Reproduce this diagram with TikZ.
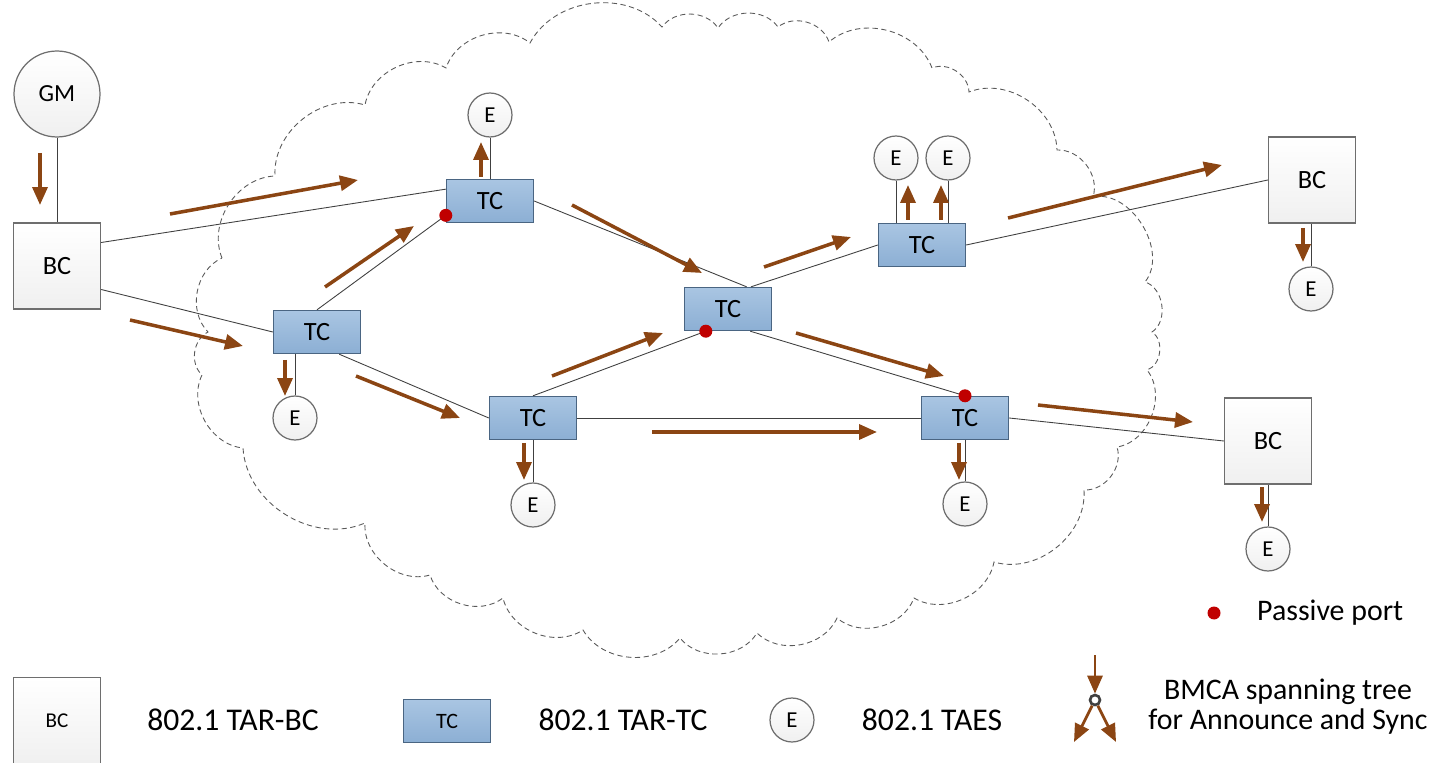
\documentclass[tikz,border=0pt]{standalone}
\usepackage{fontspec}
\setmainfont{Carlito}
\usetikzlibrary{arrows.meta,positioning}

\begin{document}
\begin{tikzpicture}[x=0.02cm,y=0.02cm]
% Define scheme colours
\definecolor{flow}{HTML}{8B4513}
\definecolor{tctop}{HTML}{A9C5E2}
\definecolor{tcbot}{HTML}{8CAFD4}
\definecolor{tcedge}{HTML}{4A6582}
\definecolor{boxedge}{HTML}{6E6E6E}
\definecolor{port}{HTML}{C00000}
\definecolor{wire}{HTML}{404040}

\tikzset{
  tcbox/.style={draw=tcedge,line width=0.8pt,top color=tctop,bottom color=tcbot,minimum width=1.74cm,minimum height=0.86cm,inner sep=0pt,font=\fontsize{15}{15}\selectfont},
  bcbox/.style={draw=boxedge,line width=0.8pt,top color=white,bottom color=gray!12,minimum width=1.74cm,minimum height=1.72cm,inner sep=0pt,font=\fontsize{15}{15}\selectfont},
  endst/.style={circle,draw=boxedge,line width=0.7pt,top color=white,bottom color=gray!12,minimum size=0.88cm,inner sep=0pt,font=\fontsize{13}{13}\selectfont},
  wireln/.style={draw=wire,line width=0.5pt},
  flowarr/.style={draw=flow,line width=2pt,-{Triangle[length=0.36cm,width=0.3cm]}},
  passive/.style={circle,fill=port,inner sep=0pt,minimum size=0.26cm},
  cloudln/.style={draw=gray!70!black,line width=0.5pt,dash pattern=on 3pt off 2pt},
  legtext/.style={font=\fontsize{18}{18}\selectfont}
}

\useasboundingbox (0,0) rectangle (1437,-763);

% Network cloud
\draw[cloudln] (222,-258) to[bend left=55] (275,-176) to[bend left=55] (365,-105)
  to[bend left=55] (446,-68) to[bend left=55] (530,-43) to[bend left=55] (662,-27)
  to[bend left=55] (718,-28) to[bend left=55] (778,-27) to[bend left=55] (829,-42)
  to[bend left=55] (932,-68) to[bend left=55] (969,-92) to[bend left=55] (1057,-150)
  to[bend left=55] (1093,-197) to[bend left=70] (1145,-282) to[bend left=65] (1152,-332)
  to[bend left=65] (1147,-370) to[bend left=60] (1117,-447) to[bend left=55] (1084,-490)
  to[bend left=55] (994,-562) to[bend left=55] (914,-598) to[bend left=55] (837,-618)
  to[bend left=55] (757,-633) to[bend left=55] (680,-638) to[bend left=55] (583,-630)
  to[bend left=55] (503,-598) to[bend left=55] (430,-575) to[bend left=55] (365,-523)
  to[bend left=55] (243,-448) to[bend left=55] (202,-375) to[bend left=55] (208,-332)
  to[bend left=55] (222,-258);

% Grandmaster and boundary clocks
\node[endst,minimum size=1.72cm,font=\fontsize{14}{14}\selectfont] (gm) at (57,-94) {GM};
\node[bcbox] (bc1) at (57,-266) {BC};
\node[bcbox] (bc2) at (1312,-180) {BC};
\node[bcbox] (bc3) at (1268,-441) {BC};

% Transparent clocks
\node[tcbox] (tc1) at (490,-201) {TC};
\node[tcbox] (tc2) at (317,-332) {TC};
\node[tcbox] (tc3) at (533,-418) {TC};
\node[tcbox] (tc4) at (728,-309) {TC};
\node[tcbox] (tc5) at (922,-245) {TC};
\node[tcbox] (tc6) at (965,-418) {TC};

% End stations
\node[endst] (e1) at (490,-115) {E};
\node[endst] (e2) at (295,-418) {E};
\node[endst] (e3) at (533,-505) {E};
\node[endst] (e4) at (896,-158) {E};
\node[endst] (e5) at (948,-158) {E};
\node[endst] (e6) at (965,-504) {E};
\node[endst] (e7) at (1311,-289) {E};
\node[endst] (e8) at (1268,-549) {E};

% Links
\draw[wireln] (gm) -- (bc1);
\draw[wireln] (bc1.28) -- (tc1.165);
\draw[wireln] (bc1.-28) -- (tc2.west);
\draw[wireln] (tc2.north) -- (tc1.198);
\draw[wireln] (tc2.-45) -- (tc3.west);
\draw[wireln] (tc1.east) -- (tc4.50);
\draw[wireln] (tc3.north) -- (tc4.-135);
\draw[wireln] (tc3.east) -- (tc6.west);
\draw[wireln] (tc4.44) -- (tc5.west);
\draw[wireln] (tc4.-45) -- (tc6.north);
\draw[wireln] (tc5.east) -- (bc2.west);
\draw[wireln] (tc6.east) -- (bc3.west);
\draw[wireln] (e1) -- (tc1);
\draw[wireln] (e2) -- (e2 |- tc2.south);
\draw[wireln] (e3) -- (tc3);
\draw[wireln] (e4) -- (e4 |- tc5.north);
\draw[wireln] (e5) -- (e5 |- tc5.north);
\draw[wireln] (e6) -- (tc6);
\draw[wireln] (e7) -- (e7 |- bc2.south);
\draw[wireln] (e8) -- (bc3);

% Passive ports
\node[passive] (pp1) at (tc1.198) {};
\node[passive] (pp2) at (tc4.-135) {};
\node[passive] (pp3) at (tc6.north) {};

% Announce and Sync flow
\draw[flowarr] (40,-153) -- (40,-205);
\draw[flowarr] (170,-214) -- (358,-180);
\draw[flowarr] (130,-320) -- (243,-346);
\draw[flowarr] (325,-287) -- (414,-226);
\draw[flowarr] (285,-360) -- (285,-396);
\draw[flowarr] (356,-376) -- (460,-418);
\draw[flowarr] (481,-177) -- (481,-142);
\draw[flowarr] (572,-205) -- (702,-273);
\draw[flowarr] (552,-376) -- (663,-333);
\draw[flowarr] (524,-443) -- (524,-480);
\draw[flowarr] (652,-432) -- (877,-432);
\draw[flowarr] (764,-267) -- (851,-237);
\draw[flowarr] (796,-333) -- (944,-376);
\draw[flowarr] (908,-220) -- (908,-185);
\draw[flowarr] (941,-220) -- (941,-185);
\draw[flowarr] (1008,-218) -- (1222,-165);
\draw[flowarr] (1038,-405) -- (1193,-422);
\draw[flowarr] (959,-443) -- (959,-480);
\draw[flowarr] (1303,-228) -- (1303,-262);
\draw[flowarr] (1262,-487) -- (1262,-522);

% Legend
\node[bcbox,minimum height=1.74cm,font=\fontsize{12}{12}\selectfont] (lbc) at (57,-721) {BC};
\node[legtext] (lbctext) at (233,-720) {802.1 TAR-BC};
\node[tcbox,font=\fontsize{12.5}{12.5}\selectfont] (ltc) at (447,-721) {TC};
\node[legtext] (ltctext) at (623,-720) {802.1 TAR-TC};
\node[endst] (le) at (792,-720) {E};
\node[legtext] (letext) at (932,-720) {802.1 TAES};
\node[passive] (lpp) at (1214,-613) {};
\node[legtext,anchor=west,font=\fontsize{17}{17}\selectfont] (lpptext) at (1251,-613) {Passive port};
\node[circle,draw=wire,line width=1.5pt,minimum size=0.2cm,inner sep=0pt] (lring) at (1095,-700) {};
\draw[flowarr,line width=1.6pt] (1095,-655) -- (lring.north);
\draw[flowarr,line width=1.6pt] (lring) -- (1074,-742);
\draw[flowarr,line width=1.6pt] (lring) -- (1116,-742);
\node[align=center,font=\fontsize{17}{17}\selectfont] (lbmca) at (1288,-707) {BMCA spanning tree\\for Announce and Sync};
\end{tikzpicture}
\end{document}
